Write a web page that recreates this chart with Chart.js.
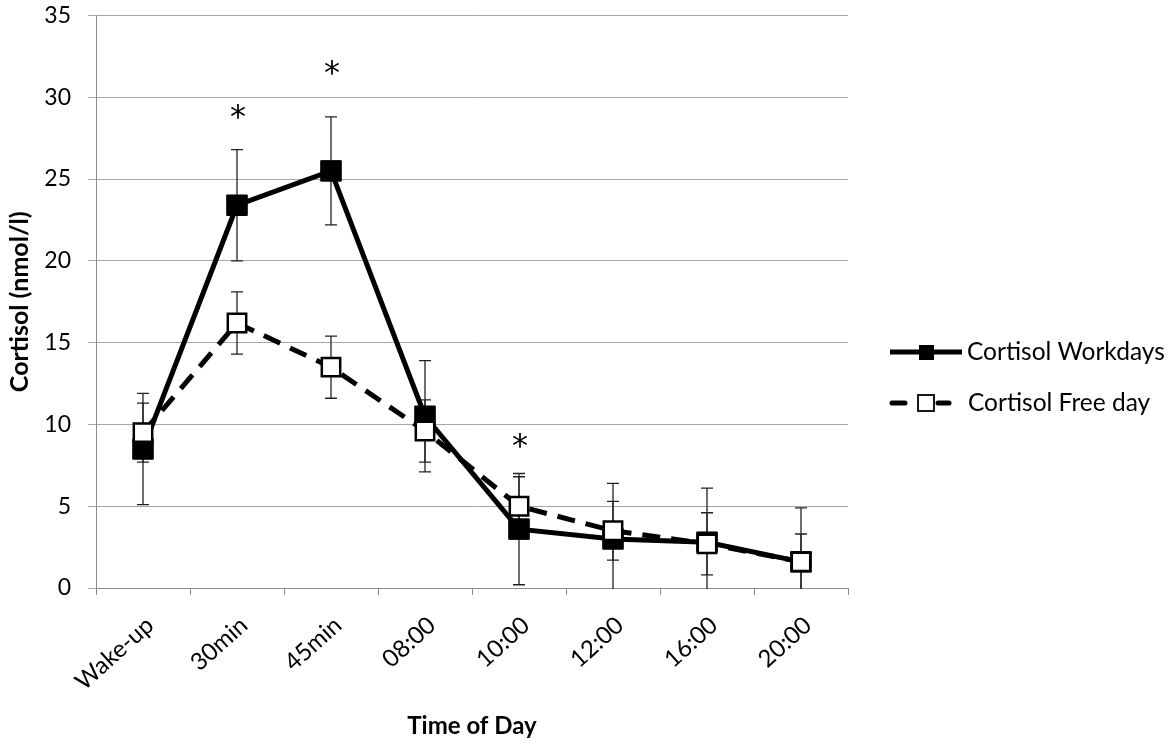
<!DOCTYPE html>
<html>
<head>
<meta charset="utf-8">
<script src="https://cdn.jsdelivr.net/npm/chart.js@4.4.1/dist/chart.umd.min.js"></script>
<style>
  body { margin: 0; background: #fff; }
  #wrap { width: 1173px; height: 744px; }
</style>
</head>
<body>
<div id="wrap"><canvas id="c"></canvas></div>
<script>
const labels = ["Wake-up", "30min", "45min", "08:00", "10:00", "12:00", "16:00", "20:00"];
const workdays = [8.5, 23.4, 25.5, 10.5, 3.6, 3.0, 2.8, 1.6];
const workdaysErr = [3.4, 3.4, 3.3, 3.4, 3.4, 3.4, 3.3, 3.3];
const freeDay = [9.5, 16.2, 13.5, 9.6, 5.0, 3.5, 2.7, 1.6];
const freeDayErr = [1.8, 1.9, 1.9, 1.9, 1.8, 1.8, 1.9, 1.7];
// significance markers (y value where the asterisk sits)
const sigMarks = [null, 29.1, 31.8, null, 9.0, null, null, null];
const yTicks = [0, 5, 10, 15, 20, 25, 30, 35];

const FONT = "Lato, 'Open Sans', sans-serif";

const errorBars = {
  id: "errorBars",
  beforeDatasetsDraw(chart) {
    const ctx = chart.ctx;
    const area = chart.chartArea;
    const x = chart.scales.x, y = chart.scales.y;
    const sets = [[workdays, workdaysErr], [freeDay, freeDayErr]];
    ctx.save();
    ctx.beginPath();
    ctx.rect(area.left, area.top, area.right - area.left, area.bottom - area.top + 1);
    ctx.clip();
    ctx.strokeStyle = "#222";
    ctx.lineWidth = 1.3;
    sets.forEach(([vals, errs]) => {
      vals.forEach((v, i) => {
        const px = x.getPixelForValue(i);
        const top = y.getPixelForValue(v + errs[i]);
        const bot = y.getPixelForValue(v - errs[i]);
        ctx.beginPath();
        ctx.moveTo(px, top); ctx.lineTo(px, bot);
        ctx.moveTo(px - 6, top); ctx.lineTo(px + 6, top);
        ctx.moveTo(px - 6, bot); ctx.lineTo(px + 6, bot);
        ctx.stroke();
      });
    });
    ctx.restore();
  }
};

const extras = {
  id: "extras",
  afterDraw(chart) {
    const ctx = chart.ctx;
    const x = chart.scales.x, y = chart.scales.y;
    ctx.save();
    // asterisks
    ctx.fillStyle = "#000";
    ctx.font = "32px 'DejaVu Sans', sans-serif";
    ctx.textAlign = "center";
    ctx.textBaseline = "middle";
    sigMarks.forEach((v, i) => {
      if (v === null) return;
      ctx.fillText("*", x.getPixelForValue(i) + 1, y.getPixelForValue(v) + 7);
    });

    // legend
    ctx.font = "24.5px " + FONT;
    ctx.textAlign = "left";
    ctx.textBaseline = "middle";
    // workdays
    let ly = 352;
    ctx.strokeStyle = "#000";
    ctx.lineWidth = 5;
    ctx.beginPath(); ctx.moveTo(890, ly); ctx.lineTo(962, ly); ctx.stroke();
    ctx.fillStyle = "#000";
    ctx.fillRect(919, ly - 7, 15, 15);
    ctx.fillText("Cortisol Workdays", 967, ly);
    // free day
    ly = 403;
    ctx.lineCap = "round";
    ctx.beginPath(); ctx.moveTo(892, ly); ctx.lineTo(905, ly); ctx.stroke();
    ctx.beginPath(); ctx.moveTo(938, ly); ctx.lineTo(949, ly); ctx.stroke();
    ctx.lineCap = "butt";
    ctx.fillStyle = "#fff";
    ctx.lineWidth = 1.8;
    ctx.fillRect(918, ly - 8, 16, 16);
    ctx.strokeRect(918, ly - 8, 16, 16);
    ctx.fillStyle = "#000";
    ctx.fillText("Cortisol Free day", 968, ly);
    ctx.restore();
  }
};

new Chart(document.getElementById("c"), {
  type: "line",
  data: {
    labels: labels,
    datasets: [
      {
        label: "Cortisol Workdays",
        data: workdays,
        borderColor: "#000",
        borderWidth: 5,
        pointStyle: "rect",
        pointRadius: 14.5,
        pointBackgroundColor: "#000",
        pointBorderColor: "#000",
        pointBorderWidth: 1,
        tension: 0,
        order: 1
      },
      {
        label: "Cortisol Free day",
        data: freeDay,
        borderColor: "#000",
        borderWidth: 5,
        borderDash: [18, 11],
        pointStyle: "rect",
        pointRadius: 13,
        pointBackgroundColor: "#fff",
        pointBorderColor: "#000",
        pointBorderWidth: 2.5,
        tension: 0,
        order: 0
      }
    ]
  },
  options: {
    responsive: true,
    maintainAspectRatio: false,
    animation: false,
    devicePixelRatio: 1,
    layout: { padding: { top: 0, right: 325, left: 0, bottom: 0 } },
    plugins: {
      legend: { display: false },
      tooltip: { enabled: false }
    },
    scales: {
      x: {
        offset: true,
        grid: { offset: true, drawOnChartArea: false, tickLength: 7, color: "#8c8c8c" },
        border: { color: "#8c8c8c" },
        ticks: {
          font: { family: FONT, size: 24 },
          color: "#000",
          minRotation: 42,
          maxRotation: 42,
          padding: 16,
          labelOffset: 7
        },
        title: {
          display: true,
          text: "Time of Day",
          font: { family: FONT, size: 24, weight: "bold" },
          color: "#000",
          padding: { top: 0, bottom: 3 }
        },
        afterFit(scale) { scale.height = 156; }
      },
      y: {
        min: 0,
        max: 35,
        afterBuildTicks(scale) { scale.ticks = yTicks.map(v => ({ value: v })); },
        grid: { color: "#a6a6a6", tickLength: 8 },
        border: { color: "#8c8c8c" },
        ticks: {
          font: { family: FONT, size: 23 },
          color: "#000",
          padding: 17
        },
        title: {
          display: true,
          text: "Cortisol (nmol/l)",
          font: { family: FONT, size: 25, weight: "bold" },
          color: "#000",
          padding: { top: 5, bottom: 0 }
        },
        afterFit(scale) {
          scale.width = 96;
          scale.paddingTop = 13;
          scale.paddingBottom = 0;
        }
      }
    }
  },
  plugins: [errorBars, extras]
});
</script>
</body>
</html>
